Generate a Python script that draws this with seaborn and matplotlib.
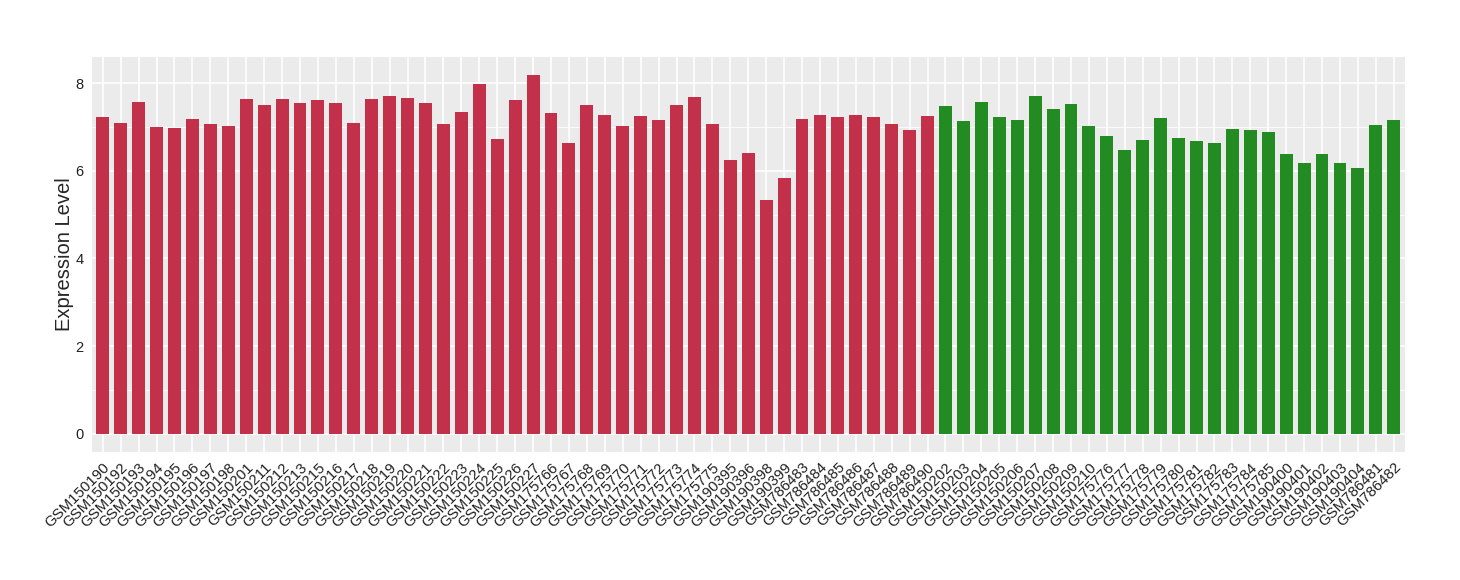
import pandas as pd
import seaborn as sns
import matplotlib.pyplot as plt
from matplotlib.ticker import MultipleLocator

# sample ids, grouped as in the chart
samples_a = ['GSM150190', 'GSM150192', 'GSM150193', 'GSM150194', 'GSM150195', 'GSM150196',
             'GSM150197', 'GSM150198', 'GSM150201', 'GSM150211', 'GSM150212', 'GSM150213',
             'GSM150215', 'GSM150216', 'GSM150217', 'GSM150218', 'GSM150219', 'GSM150220',
             'GSM150221', 'GSM150222', 'GSM150223', 'GSM150224', 'GSM150225', 'GSM150226',
             'GSM150227', 'GSM175766', 'GSM175767', 'GSM175768', 'GSM175769', 'GSM175770',
             'GSM175771', 'GSM175772', 'GSM175773', 'GSM175774', 'GSM175775', 'GSM190395',
             'GSM190396', 'GSM190398', 'GSM190399', 'GSM786483', 'GSM786484', 'GSM786485',
             'GSM786486', 'GSM786487', 'GSM786488', 'GSM786489', 'GSM786490']
values_a = [7.23, 7.09, 7.57, 7.00, 6.98, 7.18, 7.07, 7.02, 7.64, 7.50, 7.64, 7.55,
            7.62, 7.55, 7.09, 7.64, 7.71, 7.66, 7.55, 7.07, 7.34, 7.98, 6.73, 7.62,
            8.19, 7.32, 6.63, 7.50, 7.27, 7.02, 7.25, 7.16, 7.50, 7.69, 7.07, 6.24,
            6.40, 5.33, 5.83, 7.18, 7.27, 7.23, 7.27, 7.23, 7.07, 6.93, 7.25]

samples_b = ['GSM150202', 'GSM150203', 'GSM150204', 'GSM150205', 'GSM150206', 'GSM150207',
             'GSM150208', 'GSM150209', 'GSM150210', 'GSM175776', 'GSM175777', 'GSM175778',
             'GSM175779', 'GSM175780', 'GSM175781', 'GSM175782', 'GSM175783', 'GSM175784',
             'GSM175785', 'GSM190400', 'GSM190401', 'GSM190402', 'GSM190403', 'GSM190404',
             'GSM786481', 'GSM786482']
values_b = [7.48, 7.14, 7.57, 7.23, 7.16, 7.71, 7.41, 7.53, 7.02, 6.79, 6.47, 6.70,
            7.21, 6.76, 6.68, 6.63, 6.95, 6.93, 6.89, 6.38, 6.18, 6.38, 6.18, 6.06,
            7.05, 7.16]

data = pd.DataFrame({
    'sample': samples_a + samples_b,
    'value': values_a + values_b,
    'group': ['A'] * len(samples_a) + ['B'] * len(samples_b),
})

sns.set_style('darkgrid', {'axes.facecolor': '#EBEBEB', 'grid.color': 'white'})
plt.rcParams['font.family'] = ['Liberation Sans', 'DejaVu Sans']

fig = plt.figure(figsize=(14.6, 5.8), dpi=100)
ax = fig.add_axes([0.063, 0.221, 0.899, 0.681])

sns.barplot(data=data, x='sample', y='value', hue='group',
            palette={'A': '#C23049', 'B': '#228B22'}, dodge=False,
            width=0.72, saturation=1, legend=False, linewidth=0, ax=ax)

# ggplot-like panel: minor grid between majors
ax.yaxis.set_major_locator(MultipleLocator(2))
ax.yaxis.set_minor_locator(MultipleLocator(1))
ax.grid(which='major', color='white', linewidth=1.2)
ax.grid(which='minor', axis='y', color='white', linewidth=0.6)
ax.set_axisbelow(True)
for s in ax.spines.values():
    s.set_visible(False)

ax.set_xlim(-0.6, len(data) - 0.4)
ax.set_ylim(-0.41, 8.6)
ax.tick_params(axis='both', which='major', length=4, width=0.8, color='#333333',
               labelcolor='#222222', pad=2)
ax.tick_params(axis='x', labelsize=10.8)
ax.tick_params(axis='y', labelsize=10.5)
ax.tick_params(axis='y', which='minor', length=0)
ax.set_xticks(range(len(data)))
ax.set_xticklabels(data['sample'], rotation=45, ha='right', rotation_mode='anchor')
ax.set_xlabel('')
ax.set_ylabel('Expression Level', fontsize=14.5, labelpad=1)

fig.savefig('out.png', dpi=100)
